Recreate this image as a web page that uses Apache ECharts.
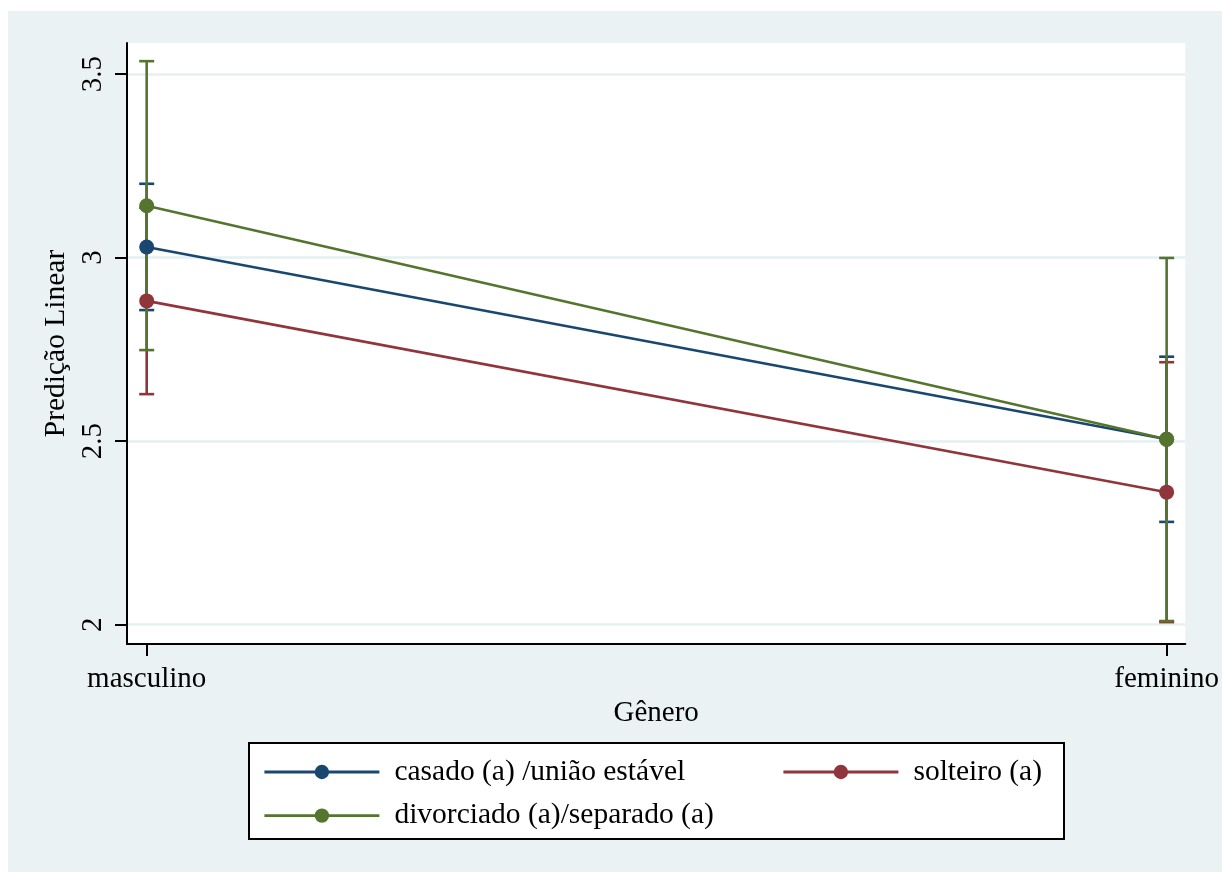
<!DOCTYPE html>
<html><head><meta charset="utf-8">
<script src="https://cdn.jsdelivr.net/npm/echarts@6/dist/echarts.min.js"></script>
<style>html,body{margin:0;padding:0;background:#fff}#c{width:1222px;height:872px}</style>
</head><body><div id="c"></div>
<script>
const categories = ['masculino', 'feminino'];
const seriesNames = ['casado (a) /união estável', 'solteiro (a)', 'divorciado (a)/separado (a)'];
const casadoMean = [3.029, 2.505];
const casadoLow = [2.857, 2.280];
const casadoHigh = [3.201, 2.730];
const solteiroMean = [2.882, 2.361];
const solteiroLow = [2.628, 2.007];
const solteiroHigh = [3.136, 2.715];
const divorciadoMean = [3.141, 2.505];
const divorciadoLow = [2.748, 2.010];
const divorciadoHigh = [3.535, 2.999];
const yTicks = [2, 2.5, 3, 3.5];
const xAxisTitle = 'Gênero';
const yAxisTitle = 'Predição Linear';

const colors = ['#1a476f', '#90353b', '#55752f'];
const FONT = '"Liberation Serif", "Times New Roman", serif';
const FS = 29;
const LFS = 29.5;

function ciSeries(name, low, high, color) {
  return {
    type: 'custom', name: name + ' IC', silent: true, z: 2,
    data: categories.map((c, i) => [i, low[i], high[i]]),
    encode: { x: 0, y: [1, 2] },
    renderItem(params, api) {
      const x = api.value(0);
      const lo = api.coord([x, api.value(1)]);
      const hi = api.coord([x, api.value(2)]);
      const hw = 7.5;
      const st = { stroke: color, lineWidth: 2.6 };
      return { type: 'group', children: [
        { type: 'line', shape: { x1: lo[0], y1: lo[1], x2: hi[0], y2: hi[1] }, style: st },
        { type: 'line', shape: { x1: lo[0] - hw, y1: lo[1], x2: lo[0] + hw, y2: lo[1] }, style: st },
        { type: 'line', shape: { x1: hi[0] - hw, y1: hi[1], x2: hi[0] + hw, y2: hi[1] }, style: st }
      ]};
    }
  };
}
function lineSeries(name, mean, color) {
  return {
    type: 'line', name: name, z: 3,
    data: categories.map((c, i) => [i, mean[i]]),
    symbol: 'circle', symbolSize: 15, showSymbol: true,
    itemStyle: { color: color }, lineStyle: { color: color, width: 2.6 },
    emphasis: { disabled: true }
  };
}

const chart = echarts.init(document.getElementById('c'), null, { renderer: 'canvas' });
chart.setOption({
  animation: false,
  backgroundColor: '#ffffff',
  textStyle: { fontFamily: FONT },
  graphic: [
    { type: 'rect', z: -10, shape: { x: 8, y: 11, width: 1214, height: 861 }, style: { fill: '#eaf2f3' } },
    { type: 'rect', z: -5, shape: { x: 249, y: 743, width: 815, height: 96 }, style: { fill: '#ffffff', stroke: '#000', lineWidth: 2 } }
  ],
  grid: { left: 127, right: 35, top: 43, bottom: 228, show: true, backgroundColor: '#ffffff', borderWidth: 0 },
  xAxis: {
    type: 'value', min: -0.0193, max: 1.0183,
    name: xAxisTitle, nameLocation: 'middle', nameGap: 50,
    nameTextStyle: { fontFamily: FONT, fontSize: FS, color: '#000' },
    axisLine: { show: true, onZero: false, lineStyle: { color: '#000', width: 2 } },
    axisTick: { show: true, customValues: [0, 1], length: 12, lineStyle: { color: '#000', width: 2 } },
    axisLabel: { customValues: [0, 1], formatter: v => categories[Math.round(v)], fontFamily: FONT, fontSize: FS, color: '#000', margin: 21 },
    splitLine: { show: false }
  },
  yAxis: {
    type: 'value', min: 1.9474, max: 3.5845,
    name: yAxisTitle, nameLocation: 'middle', nameGap: 52,
    nameTextStyle: { fontFamily: FONT, fontSize: 29.5, color: '#000' },
    axisLine: { show: true, onZero: false, lineStyle: { color: '#000', width: 2 } },
    axisTick: { show: true, customValues: yTicks, length: 12, lineStyle: { color: '#000', width: 2 } },
    axisLabel: { customValues: yTicks, rotate: 90, fontFamily: FONT, fontSize: FS, color: '#000', margin: 19 },
    splitLine: { show: false }
  },
  legend: [
    { data: [seriesNames[0], seriesNames[2]], orient: 'vertical', left: 258, top: 752, itemWidth: 115, itemHeight: 18, itemGap: 13.6,
      lineStyle: { width: 2.8 },
      textStyle: { fontFamily: FONT, fontSize: LFS, color: '#000', lineHeight: 29, padding: [0, 0, 0, 10] }, selectedMode: false },
    { data: [seriesNames[1]], orient: 'vertical', left: 777, top: 752, itemWidth: 115, itemHeight: 18,
      lineStyle: { width: 2.8 },
      textStyle: { fontFamily: FONT, fontSize: LFS, color: '#000', lineHeight: 29, padding: [0, 0, 0, 10] }, selectedMode: false }
  ],
  series: [
    Object.assign(ciSeries(seriesNames[0], casadoLow, casadoHigh, colors[0]), {
      markLine: { silent: true, symbol: 'none', label: { show: false }, lineStyle: { color: '#e6eff1', width: 2.5, type: 'solid' }, z: 0,
        data: yTicks.map(v => ({ yAxis: v })) }
    }),
    ciSeries(seriesNames[1], solteiroLow, solteiroHigh, colors[1]),
    ciSeries(seriesNames[2], divorciadoLow, divorciadoHigh, colors[2]),
    lineSeries(seriesNames[0], casadoMean, colors[0]),
    lineSeries(seriesNames[1], solteiroMean, colors[1]),
    lineSeries(seriesNames[2], divorciadoMean, colors[2])
  ]
});
</script></body></html>
